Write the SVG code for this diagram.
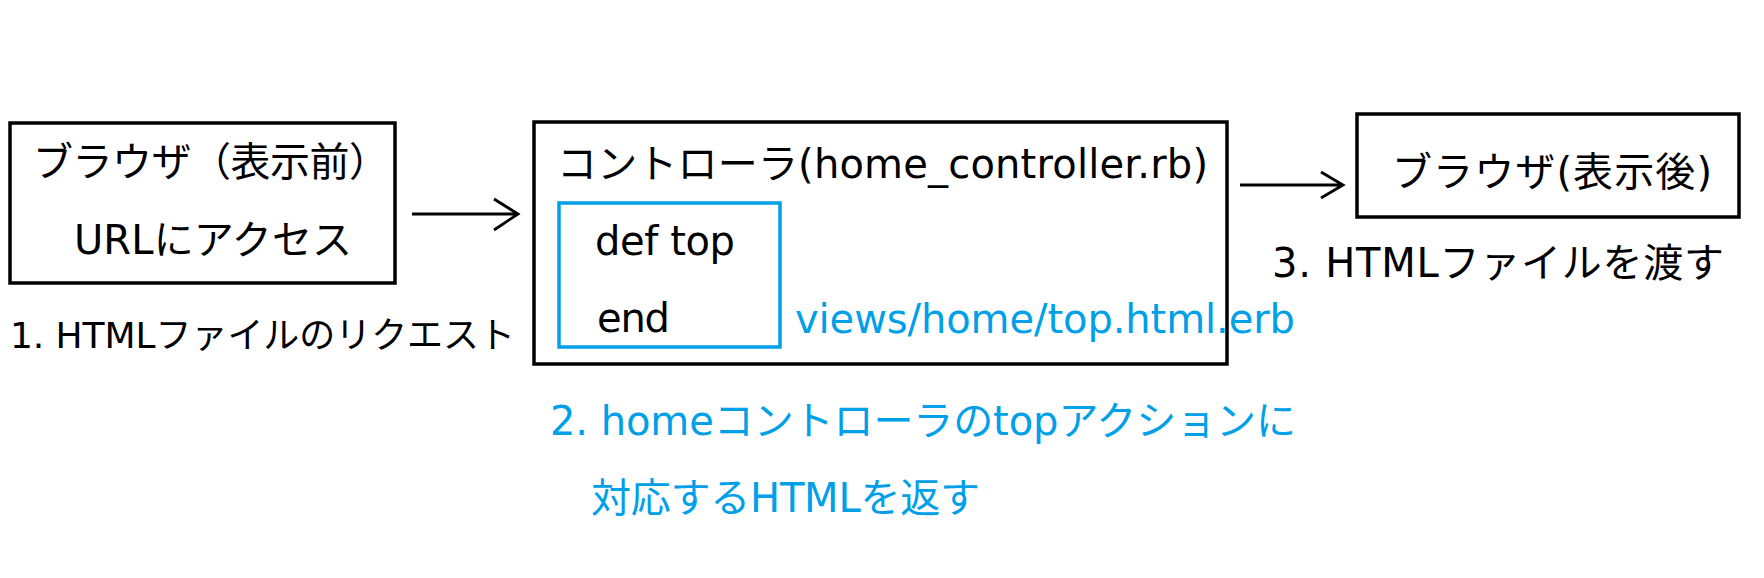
<svg xmlns="http://www.w3.org/2000/svg" width="1764" height="578" viewBox="0 0 1764 578">
<style>
.box{fill:none;stroke:#000;stroke-width:3.5}
.inner{fill:none;stroke:#00A0E9;stroke-width:3.5}
.t{font-family:"DejaVu Sans","Noto Sans CJK JP",sans-serif;font-size:40px;fill:#000}
.s{font-size:36px}
.b{fill:#00A0E9}
.con{fill:none;stroke:#000;stroke-width:2.8}
</style>
<rect width="1764" height="578" fill="#fff"/>
<g id="browser-before">
<rect class="box" x="10" y="123" width="385" height="160"/>
<text class="t" x="33" y="176" textLength="356" lengthAdjust="spacing">ブラウザ（表示前）</text>
<text class="t" x="74" y="254" textLength="278" lengthAdjust="spacing">URLにアクセス</text>
</g>
<g id="label-1">
<text class="t s" x="10" y="348" textLength="505" lengthAdjust="spacing">1. HTMLファイルのリクエスト</text>
</g>
<g id="controller">
<rect class="box" x="534" y="122" width="693" height="242"/>
<text class="t" x="557" y="178" textLength="651" lengthAdjust="spacing">コントローラ(home_controller.rb)</text>
</g>
<g id="action-top">
<rect class="inner" x="559" y="203" width="221" height="144"/>
<text class="t" x="595" y="255" textLength="140" lengthAdjust="spacing">def top</text>
<text class="t" x="597" y="332" textLength="73" lengthAdjust="spacing">end</text>
</g>
<g id="view-file">
<text class="t b" x="795" y="333" textLength="500" lengthAdjust="spacing">views/home/top.html.erb</text>
</g>
<g id="label-2">
<text class="t b" x="550" y="435" textLength="746" lengthAdjust="spacing">2. homeコントローラのtopアクションに</text>
<text class="t b" x="591" y="512" textLength="389" lengthAdjust="spacing">対応するHTMLを返す</text>
</g>
<g id="browser-after">
<rect class="box" x="1357" y="114" width="382" height="103"/>
<text class="t" x="1392" y="186" textLength="320" lengthAdjust="spacing">ブラウザ(表示後)</text>
</g>
<g id="label-3">
<text class="t" x="1272" y="277" textLength="452" lengthAdjust="spacing">3. HTMLファイルを渡す</text>
</g>
<g id="connectors">
<path class="con" d="M412 214H518M494 199L518 214L494 230"/>
<path class="con" d="M1240 185H1343M1321 172L1343 185L1321 198"/>
</g>
</svg>
